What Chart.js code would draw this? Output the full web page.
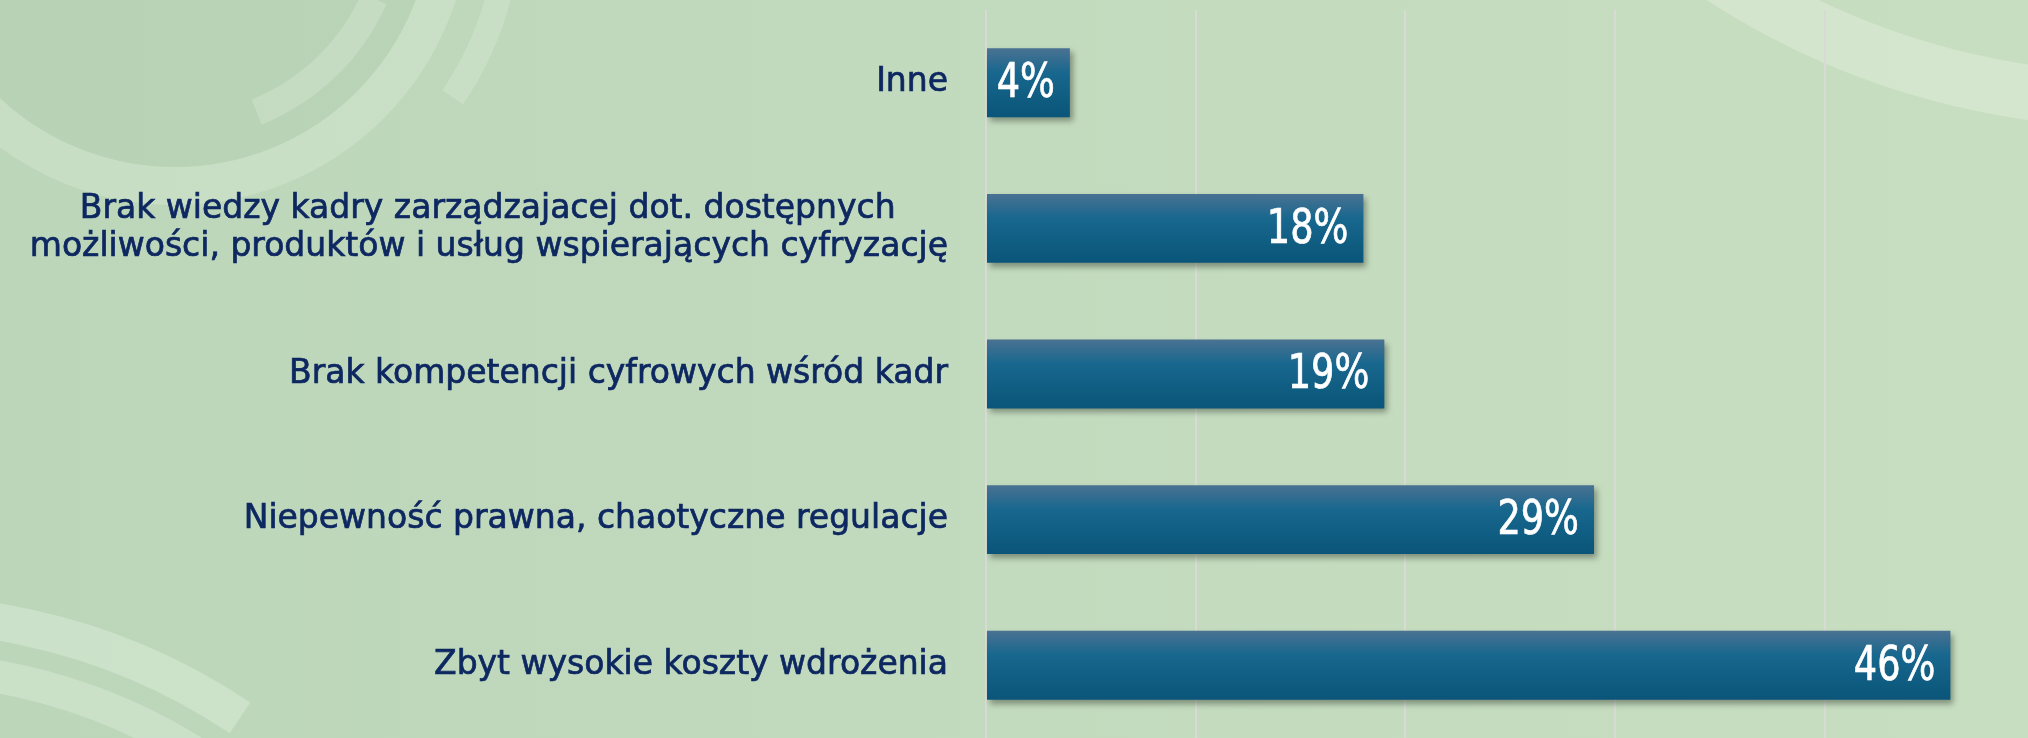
<!DOCTYPE html>
<html>
<head>
<meta charset="utf-8">
<script src="https://cdn.jsdelivr.net/npm/chart.js@4.4.1/dist/chart.umd.min.js"></script>
<style>
    html, body { margin: 0; padding: 0; background: #c3dbbd; overflow: hidden; }
    #chart { display: block; }
</style>
</head>
<body>
<canvas id="chart" width="2028" height="738"></canvas>
<script>
// data
const categories = [
    'Inne',
    ['Brak wiedzy kadry zarządzajacej dot. dostępnych     ', 'możliwości, produktów i usług wspierających cyfryzację'],
    'Brak kompetencji cyfrowych wśród kadr',
    'Niepewność prawna, chaotyczne regulacje',
    'Zbyt wysokie koszty wdrożenia'
];
const values = [4, 18, 19, 29, 46];
const valueLabels = ['4%', '18%', '19%', '29%', '46%'];

const TEXT_COLOR = '#0d2761';
const BAR_PCT = 0.473;

function ring(ctx, cx, cy, r, width, a0, a1, color) {
    ctx.strokeStyle = color;
    ctx.lineWidth = width;
    ctx.beginPath();
    ctx.arc(cx, cy, r, a0 * Math.PI / 180, a1 * Math.PI / 180);
    ctx.stroke();
}

// soft green background with the faint rings
const backdrop = {
    id: 'backdrop',
    beforeDraw(chart) {
        const ctx = chart.ctx;
        const w = chart.width, h = chart.height;
        ctx.save();
        const g = ctx.createLinearGradient(0, 0, w, 0);
        g.addColorStop(0, '#bcd6b9');
        g.addColorStop(0.5, '#c2dabd');
        g.addColorStop(1, '#c8dec1');
        ctx.fillStyle = g;
        ctx.fillRect(0, 0, w, h);

        // darker disc inside the top left ring
        ctx.fillStyle = 'rgba(120,160,120,0.06)';
        ctx.beginPath();
        ctx.arc(175, -90, 257, 0, Math.PI * 2);
        ctx.fill();

        // top left
        ring(ctx, 175, -90, 276, 38, 0, 180, 'rgba(225,240,222,0.32)');
        ring(ctx, 175, -90, 218, 27, 24, 68, 'rgba(225,240,222,0.3)');
        ring(ctx, 175, -90, 335, 25, 10, 34, 'rgba(225,240,222,0.3)');
        // bottom left
        ring(ctx, -100, 1222, 608, 37, -100, -56, 'rgba(228,242,225,0.4)');
        ring(ctx, -100, 1222, 554, 33, -100, -50, 'rgba(228,242,225,0.36)');
        // top right
        ring(ctx, 2137, -663, 763, 55, 85, 150, 'rgba(232,243,226,0.4)');
        ctx.restore();
    }
};

// drop shadow under the bars
const barShadow = {
    id: 'barShadow',
    beforeDatasetsDraw(chart) {
        const ctx = chart.ctx;
        ctx.save();
        ctx.shadowColor = 'rgba(40,50,40,0.45)';
        ctx.shadowBlur = 6;
        ctx.shadowOffsetX = 3;
        ctx.shadowOffsetY = 4;
    },
    afterDatasetsDraw(chart) {
        chart.ctx.restore();
    }
};

// white percentage labels at the end of each bar
const barLabels = {
    id: 'barLabels',
    afterDatasetsDraw(chart) {
        const ctx = chart.ctx;
        const meta = chart.getDatasetMeta(0);
        const sx = 0.85;
        ctx.save();
        ctx.fillStyle = '#ffffff';
        ctx.strokeStyle = '#ffffff';
        ctx.lineWidth = 0.7;
        ctx.font = '48px "DejaVu Sans Condensed", "DejaVu Sans", sans-serif';
        ctx.textAlign = 'right';
        ctx.textBaseline = 'middle';
        meta.data.forEach((bar, i) => {
            ctx.save();
            ctx.translate(bar.x - 15, bar.y + 2);
            ctx.scale(sx, 1);
            ctx.fillText(valueLabels[i], 0, 0);
            ctx.strokeText(valueLabels[i], 0, 0);
            ctx.restore();
        });
        ctx.restore();
    }
};

function barGradient(context) {
    const ys = context.chart.scales.y;
    if (!ys || context.dataIndex === undefined) return '#0f5f86';
    const yc = ys.getPixelForValue(context.dataIndex);
    const half = ys.height / categories.length * BAR_PCT / 2;
    if (!isFinite(yc) || !isFinite(half)) return '#0f5f86';
    const g = context.chart.ctx.createLinearGradient(0, yc - half, 0, yc + half);
    g.addColorStop(0, '#4a7292');
    g.addColorStop(0.35, '#18678e');
    g.addColorStop(1, '#0a5579');
    return g;
}

const ctx = document.getElementById('chart').getContext('2d');
new Chart(ctx, {
    type: 'bar',
    data: {
        labels: categories,
        datasets: [{
            data: values,
            backgroundColor: barGradient,
            borderWidth: 0,
            categoryPercentage: 1,
            barPercentage: BAR_PCT
        }]
    },
    options: {
        indexAxis: 'y',
        responsive: false,
        animation: false,
        layout: { padding: { top: 10, bottom: 0, left: 0, right: 0 } },
        plugins: {
            legend: { display: false },
            tooltip: { enabled: false }
        },
        scales: {
            x: {
                min: 0,
                max: 49.7,
                ticks: { display: false, stepSize: 10 },
                grid: {
                    drawTicks: false,
                    lineWidth: 2,
                    color: c => (c.tick && c.tick.value % 10 === 0) ? '#d9dad6' : 'rgba(0,0,0,0)'
                },
                border: { display: false }
            },
            y: {
                afterFit(scale) {
                    scale.width = 986;
                    scale.paddingTop = 0;
                    scale.paddingBottom = 0;
                },
                grid: { display: false, drawTicks: false },
                border: { display: false },
                ticks: {
                    padding: 38,
                    color: TEXT_COLOR,
                    textStrokeColor: TEXT_COLOR,
                    textStrokeWidth: 0.7,
                    font: { family: '"DejaVu Sans", sans-serif', size: 33, lineHeight: 1.18 }
                }
            }
        }
    },
    plugins: [backdrop, barShadow, barLabels]
});
</script>
</body>
</html>
